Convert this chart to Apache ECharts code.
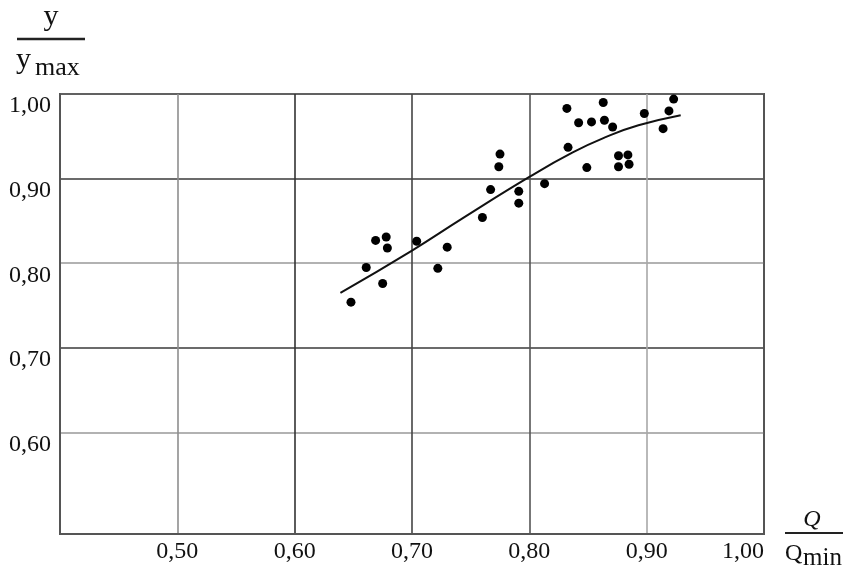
<!DOCTYPE html>
<html><head><meta charset="utf-8">
<script src="https://cdn.jsdelivr.net/npm/echarts@6/dist/echarts.min.js"></script>
<style>html,body{margin:0;padding:0;background:#fff}#c{width:851px;height:578px}</style>
</head><body><div id="c"></div>
<script>
// x axis: Q / Q_min ; y axis: y / y_max
const xTickLabels = ['0,50','0,60','0,70','0,80','0,90','1,00'];
const yTickValues = [0.6, 0.7, 0.8, 0.9, 1.0];
const yTickLabels = ['0,60','0,70','0,80','0,90','1,00'];

// measured points
const pointX = [0.648,0.661,0.669,0.678,0.679,0.675,0.704,0.730,0.722,0.760,0.767,0.774,0.775,0.791,0.791,0.813,0.833,0.832,0.842,0.853,0.864,0.863,0.871,0.849,0.876,0.884,0.876,0.885,0.898,0.923,0.919,0.914];
const pointY = [0.754,0.795,0.827,0.831,0.818,0.776,0.826,0.819,0.794,0.854,0.887,0.914,0.929,0.885,0.871,0.894,0.937,0.983,0.966,0.967,0.969,0.990,0.961,0.913,0.927,0.928,0.914,0.917,0.977,0.994,0.980,0.959];

// trend curve
const curveX = [0.639,0.700,0.743,0.800,0.837,0.865,0.893,0.929];
const curveY = [0.765,0.815,0.853,0.902,0.931,0.949,0.963,0.975];

const serif = '"Liberation Serif","DejaVu Serif",serif';
const fmt = v => v.toFixed(2).replace('.', ',');

const chart = echarts.init(document.getElementById('c'), null, {renderer: 'canvas'});
chart.setOption({
  backgroundColor: '#fff',
  animation: false,
  grid: {left: 60, right: 87, top: 94, bottom: 44, show: true, borderColor: '#555', borderWidth: 2, containLabel: false, outerBoundsMode: 'none'},
  xAxis: {
    type: 'value', min: 0.4, max: 1.0, interval: 0.1,
    axisLine: {show: true, lineStyle: {color: '#555', width: 2}},
    axisTick: {show: false},
    axisLabel: {
      showMinLabel: false, alignMaxLabel: 'right', margin: 6,
      color: '#111', fontFamily: serif, fontSize: 24,
      formatter: v => { const s = fmt(v); return xTickLabels.indexOf(s) >= 0 ? s : ''; }
    },
    splitLine: {show: true, lineStyle: {width: 1.6, color: ['#555','#8e8e8e','#333','#444','#555','#a8a8a8','#555']}}
  },
  yAxis: {
    type: 'value', min: 0.48, max: 1.0,
    axisLine: {show: true, lineStyle: {color: '#555', width: 2}},
    axisTick: {show: false, customValues: yTickValues},
    axisLabel: {
      customValues: yTickValues, margin: 9, verticalAlign: 'top', lineHeight: 24,
      color: '#111', fontFamily: serif, fontSize: 24,
      formatter: v => yTickLabels[yTickValues.findIndex(t => Math.abs(t - v) < 1e-6)] || ''
    },
    splitLine: {show: true, lineStyle: {width: 1.6, color: ['#999','#3a3a3a','#999','#3a3a3a','#666']}}
  },
  series: [
    {
      type: 'line', smooth: true, showSymbol: false, symbol: 'none',
      lineStyle: {color: '#111', width: 2},
      data: curveX.map((x, i) => [x, curveY[i]]), z: 3
    },
    {
      type: 'scatter', symbol: 'circle', symbolSize: 9,
      itemStyle: {color: '#000', opacity: 1},
      data: pointX.map((x, i) => [x, pointY[i]]), z: 4
    }
  ],
  graphic: [
    {type: 'text', x: 51, y: 17, style: {text: 'y', fill: '#111', font: '30px ' + serif, align: 'center', verticalAlign: 'middle'}},
    {type: 'line', shape: {x1: 17, y1: 39, x2: 85, y2: 39}, style: {stroke: '#222', lineWidth: 2.5}},
    {type: 'text', x: 16, y: 60, style: {text: 'y', fill: '#111', font: '30px ' + serif, align: 'left', verticalAlign: 'middle'}},
    {type: 'text', x: 35, y: 68, style: {text: 'max', fill: '#111', font: '26px ' + serif, align: 'left', verticalAlign: 'middle'}},
    {type: 'text', x: 812, y: 520, style: {text: 'Q', fill: '#111', font: 'italic 24px ' + serif, align: 'center', verticalAlign: 'middle'}},
    {type: 'line', shape: {x1: 785, y1: 533, x2: 843, y2: 533}, style: {stroke: '#222', lineWidth: 2}},
    {type: 'text', x: 785, y: 554, style: {text: 'Q', fill: '#111', font: '24px ' + serif, align: 'left', verticalAlign: 'middle'}},
    {type: 'text', x: 803, y: 558, style: {text: 'min', fill: '#111', font: '25px ' + serif, align: 'left', verticalAlign: 'middle'}}
  ]
});
</script>
</body></html>
